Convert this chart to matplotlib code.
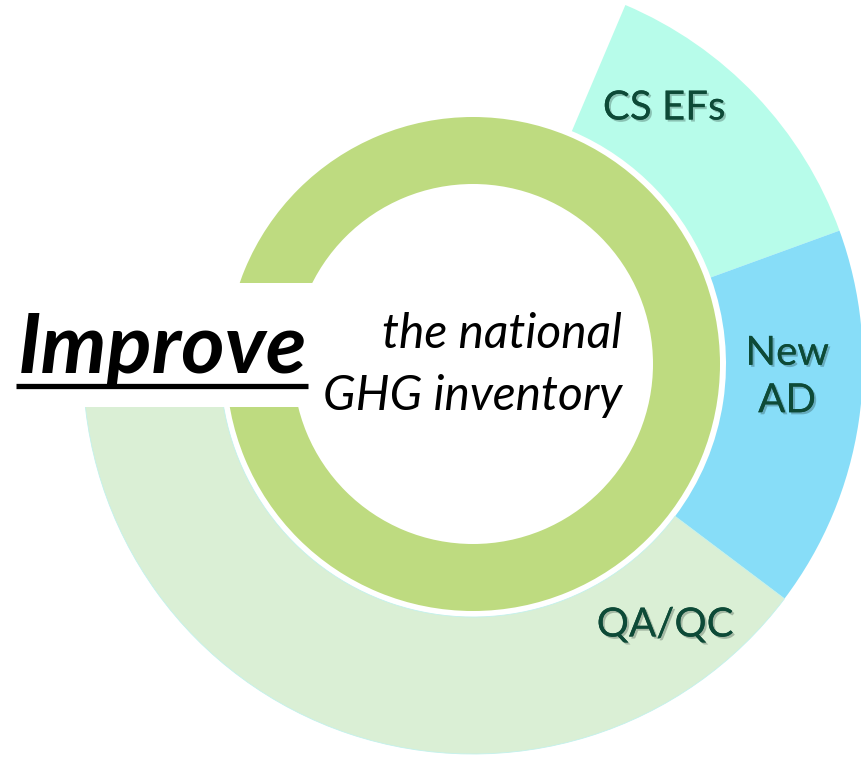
import matplotlib.pyplot as plt
from matplotlib.patches import Rectangle
import matplotlib.patheffects as pe

# outer ring segments (degrees of arc, clockwise from the top-right edge)
segments = ["CS EFs", "New\nAD", "QA/QC", ""]
spans = [47, 57, 143, 113]
seg_colors = ["#B7FCEA", "#87DDF8", "#DAEFD5", "none"]

title_word = "Improve"
subtitle = ["the national", "GHG inventory"]

W, H = 861, 758
cx, cy = 473, H - 364

plt.rcParams['font.family'] = ['Lato', 'DejaVu Sans']

fig = plt.figure(figsize=(W / 100, H / 100), dpi=100)
ax = fig.add_axes([0, 0, 1, 1])

# outer ring
wedges, _ = ax.pie(spans, colors=seg_colors, startangle=67, counterclock=False,
                   radius=390, center=(cx, cy),
                   wedgeprops=dict(width=137, linewidth=0))
wedges[2].set_edgecolor("#C2F1EC")
wedges[2].set_linewidth(0.6)

# inner ring
ax.pie([1], colors=["#BEDB80"], radius=247, center=(cx, cy),
       wedgeprops=dict(width=67, linewidth=0))

# white band behind the big word
ax.add_patch(Rectangle((0, H - 407), 322, 124, facecolor="white",
                       edgecolor="none", zorder=3))

ax.set_xlim(0, W)
ax.set_ylim(0, H)
ax.set_aspect("equal")
ax.axis("off")

shadow = [pe.withSimplePatchShadow(offset=(1.5, -1.5), alpha=0.25), pe.Normal()]
label_pos = [(664, H - 108), (787, H - 377), (665, H - 625)]
for name, (x, y) in zip(segments[:3], label_pos):
    ax.text(x, y, name, ha="center", va="center", fontsize=29,
            color="#0D4A37", linespacing=1.35, zorder=5, path_effects=shadow)

ax.text(18, H - 373, title_word, ha="left", va="baseline", fontsize=60,
        fontweight="bold", fontstyle="italic", color="black", zorder=5)
ax.plot([16, 308], [H - 386, H - 386], color="black", linewidth=3.8,
        solid_capstyle="butt", zorder=5)

for line, base in zip(subtitle, [348, 410]):
    ax.text(622, H - base, line, ha="right", va="baseline", fontsize=34.5,
            fontstyle="italic", color="black", zorder=5)

fig.savefig("out.png", dpi=100, facecolor="white")
